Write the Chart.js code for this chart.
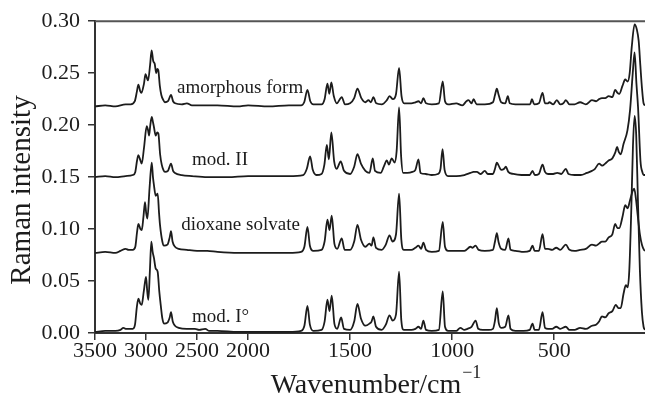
<!DOCTYPE html>
<html>
<head>
<meta charset="utf-8">
<script src="https://cdn.jsdelivr.net/npm/chart.js@4.4.1/dist/chart.umd.min.js"></script>
<style>
  html, body { margin: 0; padding: 0; background: #fff; }
  #wrap { width: 645px; height: 401px; }
</style>
</head>
<body>
<div id="wrap"><canvas id="raman"></canvas></div>
<script>
// spectra: [wavenumber cm-1, Raman intensity]
const amorphousForm = [
  [3500,0.218],[3400,0.219],[3300,0.218],[3200,0.220],[3150,0.220],[3110,0.223],[3090,0.232],[3075,0.239],[3058,0.233],[3045,0.231],
  [3020,0.240],[3005,0.249],[2990,0.245],[2980,0.243],[2960,0.258],[2945,0.272],[2930,0.262],[2915,0.259],[2900,0.250],[2890,0.254],
  [2880,0.253],[2865,0.238],[2850,0.229],[2830,0.224],[2815,0.222],[2785,0.223],[2755,0.229],[2735,0.223],[2715,0.221],[2650,0.220],
  [2600,0.221],[2550,0.219],[2450,0.219],[2300,0.219],[2100,0.218],[2000,0.219],[1900,0.218],[1800,0.219],[1740,0.219],[1725,0.222],
  [1709,0.234],[1695,0.223],[1680,0.220],[1640,0.220],[1625,0.225],[1611,0.240],[1602,0.230],[1592,0.241],[1580,0.228],[1565,0.221],
  [1541,0.227],[1525,0.220],[1500,0.221],[1480,0.226],[1464,0.235],[1445,0.226],[1425,0.222],[1410,0.224],[1398,0.222],[1386,0.227],
  [1372,0.221],[1345,0.220],[1320,0.224],[1307,0.228],[1290,0.225],[1275,0.230],[1260,0.255],[1248,0.228],[1235,0.221],[1200,0.221],
  [1180,0.222],[1165,0.223],[1152,0.221],[1141,0.226],[1128,0.221],[1100,0.220],[1065,0.221],[1046,0.242],[1035,0.223],[1020,0.220],
  [980,0.221],[950,0.219],[930,0.223],[920,0.224],[905,0.221],[895,0.225],[880,0.220],[840,0.220],[800,0.222],[790,0.229],
  [781,0.235],[772,0.229],[760,0.222],[740,0.221],[727,0.228],[718,0.221],[690,0.220],[640,0.220],[618,0.220],[609,0.225],
  [598,0.220],[575,0.221],[557,0.231],[545,0.221],[530,0.221],[524,0.222],[505,0.220],[487,0.224],[470,0.220],[455,0.221],
  [443,0.224],[425,0.220],[400,0.220],[373,0.222],[345,0.220],[315,0.224],[295,0.223],[280,0.225],[266,0.226],[250,0.226],
  [233,0.228],[215,0.227],[201,0.234],[190,0.231],[181,0.230],[165,0.238],[152,0.244],[140,0.242],[130,0.250],[120,0.275],
  [106,0.297],[95,0.292],[86,0.281],[78,0.258],[70,0.236],[62,0.221],[55,0.219]
];
const modII = [
  [3500,0.150],[3400,0.151],[3300,0.150],[3200,0.151],[3130,0.152],[3105,0.155],[3088,0.166],[3075,0.171],[3055,0.166],[3042,0.163],
  [3020,0.178],[2993,0.199],[2980,0.195],[2970,0.190],[2958,0.200],[2944,0.208],[2932,0.203],[2922,0.198],[2905,0.190],[2890,0.193],
  [2879,0.192],[2862,0.172],[2846,0.162],[2830,0.157],[2814,0.155],[2785,0.156],[2755,0.163],[2735,0.156],[2716,0.154],[2650,0.152],
  [2550,0.151],[2400,0.150],[2200,0.150],[2000,0.151],[1900,0.151],[1800,0.151],[1730,0.152],[1712,0.158],[1696,0.170],[1683,0.157],
  [1665,0.152],[1640,0.153],[1626,0.162],[1614,0.181],[1604,0.167],[1592,0.193],[1578,0.165],[1566,0.158],[1546,0.165],[1530,0.156],
  [1500,0.153],[1480,0.160],[1464,0.172],[1447,0.163],[1425,0.156],[1405,0.154],[1389,0.168],[1378,0.156],[1350,0.154],[1335,0.160],
  [1320,0.166],[1310,0.162],[1296,0.168],[1282,0.164],[1272,0.175],[1260,0.217],[1250,0.170],[1240,0.154],[1220,0.154],[1195,0.155],
  [1180,0.157],[1165,0.167],[1155,0.154],[1130,0.153],[1100,0.152],[1070,0.153],[1057,0.158],[1047,0.177],[1037,0.157],[1020,0.151],
  [980,0.151],[940,0.152],[910,0.154],[895,0.155],[879,0.155],[860,0.153],[840,0.156],[825,0.153],[800,0.153],[790,0.158],
  [781,0.164],[772,0.161],[760,0.157],[745,0.158],[737,0.160],[725,0.155],[700,0.153],[660,0.152],[620,0.152],[606,0.156],
  [595,0.152],[575,0.153],[557,0.162],[545,0.155],[530,0.153],[505,0.153],[485,0.154],[465,0.153],[443,0.158],[430,0.153],
  [400,0.152],[370,0.152],[340,0.154],[315,0.156],[300,0.158],[280,0.163],[265,0.161],[250,0.163],[233,0.166],[215,0.168],
  [200,0.174],[192,0.179],[183,0.174],[174,0.172],[160,0.182],[141,0.195],[128,0.215],[115,0.250],[106,0.270],[97,0.240],
  [89,0.217],[77,0.165],[68,0.155],[60,0.152],[55,0.152]
];
const dioxaneSolvate = [
  [3500,0.077],[3400,0.078],[3300,0.077],[3250,0.079],[3200,0.081],[3170,0.080],[3130,0.080],[3105,0.083],[3088,0.097],[3075,0.105],
  [3055,0.100],[3042,0.099],[3025,0.112],[3010,0.126],[2998,0.115],[2987,0.110],[2965,0.140],[2944,0.164],[2932,0.150],[2922,0.142],
  [2905,0.132],[2886,0.134],[2872,0.115],[2863,0.104],[2840,0.088],[2824,0.084],[2790,0.085],[2768,0.092],[2755,0.098],[2740,0.088],
  [2716,0.083],[2680,0.081],[2600,0.080],[2500,0.079],[2400,0.079],[2300,0.078],[2100,0.077],[2000,0.077],[1900,0.077],[1800,0.077],
  [1740,0.078],[1724,0.083],[1709,0.102],[1697,0.084],[1680,0.079],[1640,0.080],[1625,0.088],[1611,0.109],[1601,0.099],[1590,0.113],
  [1577,0.086],[1563,0.081],[1541,0.091],[1527,0.080],[1500,0.080],[1480,0.088],[1464,0.104],[1447,0.090],[1425,0.083],[1405,0.086],
  [1395,0.084],[1386,0.092],[1373,0.082],[1345,0.080],[1325,0.085],[1307,0.094],[1292,0.088],[1275,0.095],[1260,0.134],[1249,0.090],
  [1237,0.080],[1200,0.080],[1180,0.082],[1165,0.084],[1152,0.081],[1141,0.087],[1128,0.080],[1100,0.078],[1065,0.079],[1046,0.107],
  [1035,0.083],[1020,0.079],[980,0.079],[940,0.079],[910,0.083],[900,0.082],[885,0.084],[870,0.080],[840,0.079],[800,0.080],
  [790,0.088],[781,0.096],[772,0.087],[760,0.081],[740,0.080],[724,0.091],[714,0.080],[690,0.079],[650,0.078],[620,0.079],
  [606,0.084],[596,0.079],[575,0.079],[557,0.095],[545,0.081],[530,0.081],[510,0.080],[490,0.082],[470,0.080],[443,0.085],
  [425,0.080],[400,0.079],[373,0.080],[345,0.081],[315,0.085],[295,0.084],[280,0.086],[266,0.088],[250,0.088],[233,0.092],
  [215,0.095],[201,0.105],[190,0.101],[181,0.101],[165,0.112],[152,0.123],[140,0.120],[128,0.128],[115,0.137],[108,0.139],
  [100,0.130],[90,0.112],[80,0.095],[70,0.085],[60,0.080],[55,0.079]
];
const modI = [
  [3500,0.001],[3400,0.002],[3300,0.002],[3250,0.003],[3222,0.005],[3200,0.004],[3170,0.004],[3130,0.004],[3108,0.008],[3090,0.025],
  [3075,0.033],[3055,0.028],[3042,0.027],[3022,0.040],[3000,0.054],[2988,0.040],[2977,0.032],[2962,0.060],[2948,0.088],[2935,0.078],
  [2922,0.072],[2905,0.062],[2886,0.059],[2870,0.040],[2856,0.027],[2840,0.014],[2824,0.009],[2790,0.010],[2768,0.015],[2755,0.020],
  [2738,0.011],[2716,0.007],[2680,0.005],[2600,0.004],[2520,0.004],[2480,0.003],[2420,0.004],[2380,0.002],[2300,0.002],[2100,0.001],
  [2000,0.001],[1900,0.001],[1800,0.001],[1740,0.002],[1724,0.007],[1709,0.026],[1697,0.008],[1680,0.002],[1640,0.003],[1625,0.011],
  [1611,0.032],[1601,0.021],[1590,0.036],[1577,0.009],[1563,0.004],[1544,0.015],[1530,0.004],[1500,0.003],[1480,0.011],[1464,0.028],
  [1447,0.014],[1425,0.007],[1405,0.009],[1395,0.011],[1386,0.016],[1373,0.006],[1345,0.003],[1325,0.008],[1307,0.017],[1292,0.012],
  [1275,0.018],[1260,0.059],[1249,0.012],[1237,0.003],[1200,0.003],[1180,0.004],[1165,0.006],[1152,0.004],[1141,0.012],[1128,0.003],
  [1100,0.002],[1065,0.003],[1046,0.040],[1035,0.006],[1020,0.002],[980,0.002],[960,0.005],[940,0.003],[925,0.004],[905,0.006],
  [885,0.012],[872,0.004],[850,0.003],[820,0.003],[800,0.004],[790,0.012],[781,0.024],[772,0.010],[760,0.005],[740,0.006],
  [724,0.017],[714,0.004],[690,0.002],[650,0.002],[620,0.003],[606,0.009],[596,0.003],[575,0.003],[557,0.020],[545,0.005],
  [530,0.004],[510,0.004],[490,0.006],[470,0.004],[443,0.006],[425,0.003],[400,0.003],[373,0.005],[345,0.004],[315,0.007],
  [295,0.008],[280,0.011],[266,0.016],[250,0.015],[233,0.019],[215,0.021],[198,0.027],[185,0.024],[174,0.024],[160,0.038],
  [149,0.046],[140,0.044],[132,0.060],[122,0.120],[114,0.180],[106,0.209],[98,0.190],[90,0.130],[80,0.060],[70,0.020],
  [62,0.006],[55,0.003]
];

const seriesNames = ["amorphous form", "mod. II", "dioxane solvate", "mod. I\u00b0"];
const xTicks = [3500, 3000, 2500, 2000, 1500, 1000, 500];
const yTicks = [0, 0.05, 0.10, 0.15, 0.20, 0.25, 0.30];
const xHigh = 3500, xLow = 55, xBreak = 2000;   // axis is twice as stretched below 2000

const serif = '"Liberation Serif", "Times New Roman", serif';
const ink = "#1c1c1c";

// x axis with a scale break: 500 cm-1 per unit above 2000, 250 cm-1 per unit below
class WavenumberScale extends Chart.LinearScale {
  static id = "wavenumber";
  buildTicks() {
    return xTicks.map((v) => ({ value: v }));
  }
  units(v) {
    if (v >= xBreak) return (xHigh - v) / 500;
    return (xHigh - xBreak) / 500 + (xBreak - v) / 250;
  }
  getPixelForValue(v) {
    return this.left + this.width * this.units(v) / this.units(xLow);
  }
  getValueForPixel(px) {
    const u = (px - this.left) / this.width * this.units(xLow);
    const uBreak = (xHigh - xBreak) / 500;
    return u <= uBreak ? xHigh - u * 500 : xBreak - (u - uBreak) * 250;
  }
}
Chart.register(WavenumberScale);

// where each trace's name sits (wavenumber, intensity)
const labelSpots = [[2078, 0.236], [2275, 0.166], [2074, 0.104], [2270, 0.015]];

const textPlugin = {
  id: "ramanText",
  afterDraw(chart) {
    const { ctx, chartArea, scales } = chart;
    ctx.save();
    // frame top
    ctx.strokeStyle = "#555";
    ctx.lineWidth = 2;
    ctx.beginPath();
    ctx.moveTo(chartArea.left, chartArea.top);
    ctx.lineTo(chartArea.right, chartArea.top);
    ctx.stroke();

    ctx.fillStyle = ink;
    ctx.font = "19px " + serif;
    ctx.textAlign = "center";
    ctx.textBaseline = "middle";
    seriesNames.forEach((name, i) => {
      const [w, v] = labelSpots[i];
      ctx.fillText(name, scales.x.getPixelForValue(w), scales.y.getPixelForValue(v));
    });

    // y title
    ctx.save();
    ctx.translate(30, 190);
    ctx.rotate(-Math.PI / 2);
    ctx.font = "29px " + serif;
    ctx.textBaseline = "alphabetic";
    ctx.fillText("Raman intensity", 0, 0);
    ctx.restore();

    // x title with superscript
    ctx.textBaseline = "alphabetic";
    ctx.textAlign = "left";
    ctx.font = "28px " + serif;
    const main = "Wavenumber/cm";
    const mw = ctx.measureText(main).width;
    ctx.font = "18px " + serif;
    const sup = "\u22121";
    const sw = ctx.measureText(sup).width;
    const x0 = 376 - (mw + sw + 1) / 2;
    ctx.font = "28px " + serif;
    ctx.fillText(main, x0, 393);
    ctx.font = "18px " + serif;
    ctx.fillText(sup, x0 + mw + 1, 378);
    ctx.restore();
  }
};

const traces = [amorphousForm, modII, dioxaneSolvate, modI];

new Chart(document.getElementById("raman"), {
  type: "line",
  data: {
    datasets: traces.map((d, i) => ({
      label: seriesNames[i],
      data: d,
      borderColor: ink,
      borderWidth: 1.8,
      pointRadius: 0,
      fill: false,
      cubicInterpolationMode: "monotone"
    }))
  },
  options: {
    responsive: true,
    maintainAspectRatio: false,
    animation: false,
    layout: { padding: { top: 20, right: 0, left: 0, bottom: 0 } },
    plugins: { legend: { display: false }, tooltip: { enabled: false } },
    scales: {
      x: {
        type: "wavenumber",
        min: xLow,
        max: xHigh,
        border: { display: true, color: "#333", width: 2 },
        grid: { drawOnChartArea: false, drawTicks: true, tickLength: 7, color: "#333", lineWidth: 1.5 },
        ticks: {
          autoSkip: false, maxRotation: 0, padding: -2,
          color: ink, font: { family: serif, size: 22 },
          callback: (v) => String(v)
        },
        afterFit: (s) => { s.height = 68; }
      },
      y: {
        min: 0,
        max: 0.3,
        afterBuildTicks: (s) => { s.ticks = yTicks.map((v) => ({ value: v })); },
        border: { display: true, color: "#333", width: 2 },
        grid: { drawOnChartArea: false, drawTicks: true, tickLength: 7, color: "#333", lineWidth: 1.5 },
        ticks: {
          padding: 8, color: ink, font: { family: serif, size: 22 },
          callback: (v) => v.toFixed(2)
        },
        afterFit: (s) => { s.width = 95; }
      }
    }
  },
  plugins: [textPlugin]
});
</script>
</body>
</html>
